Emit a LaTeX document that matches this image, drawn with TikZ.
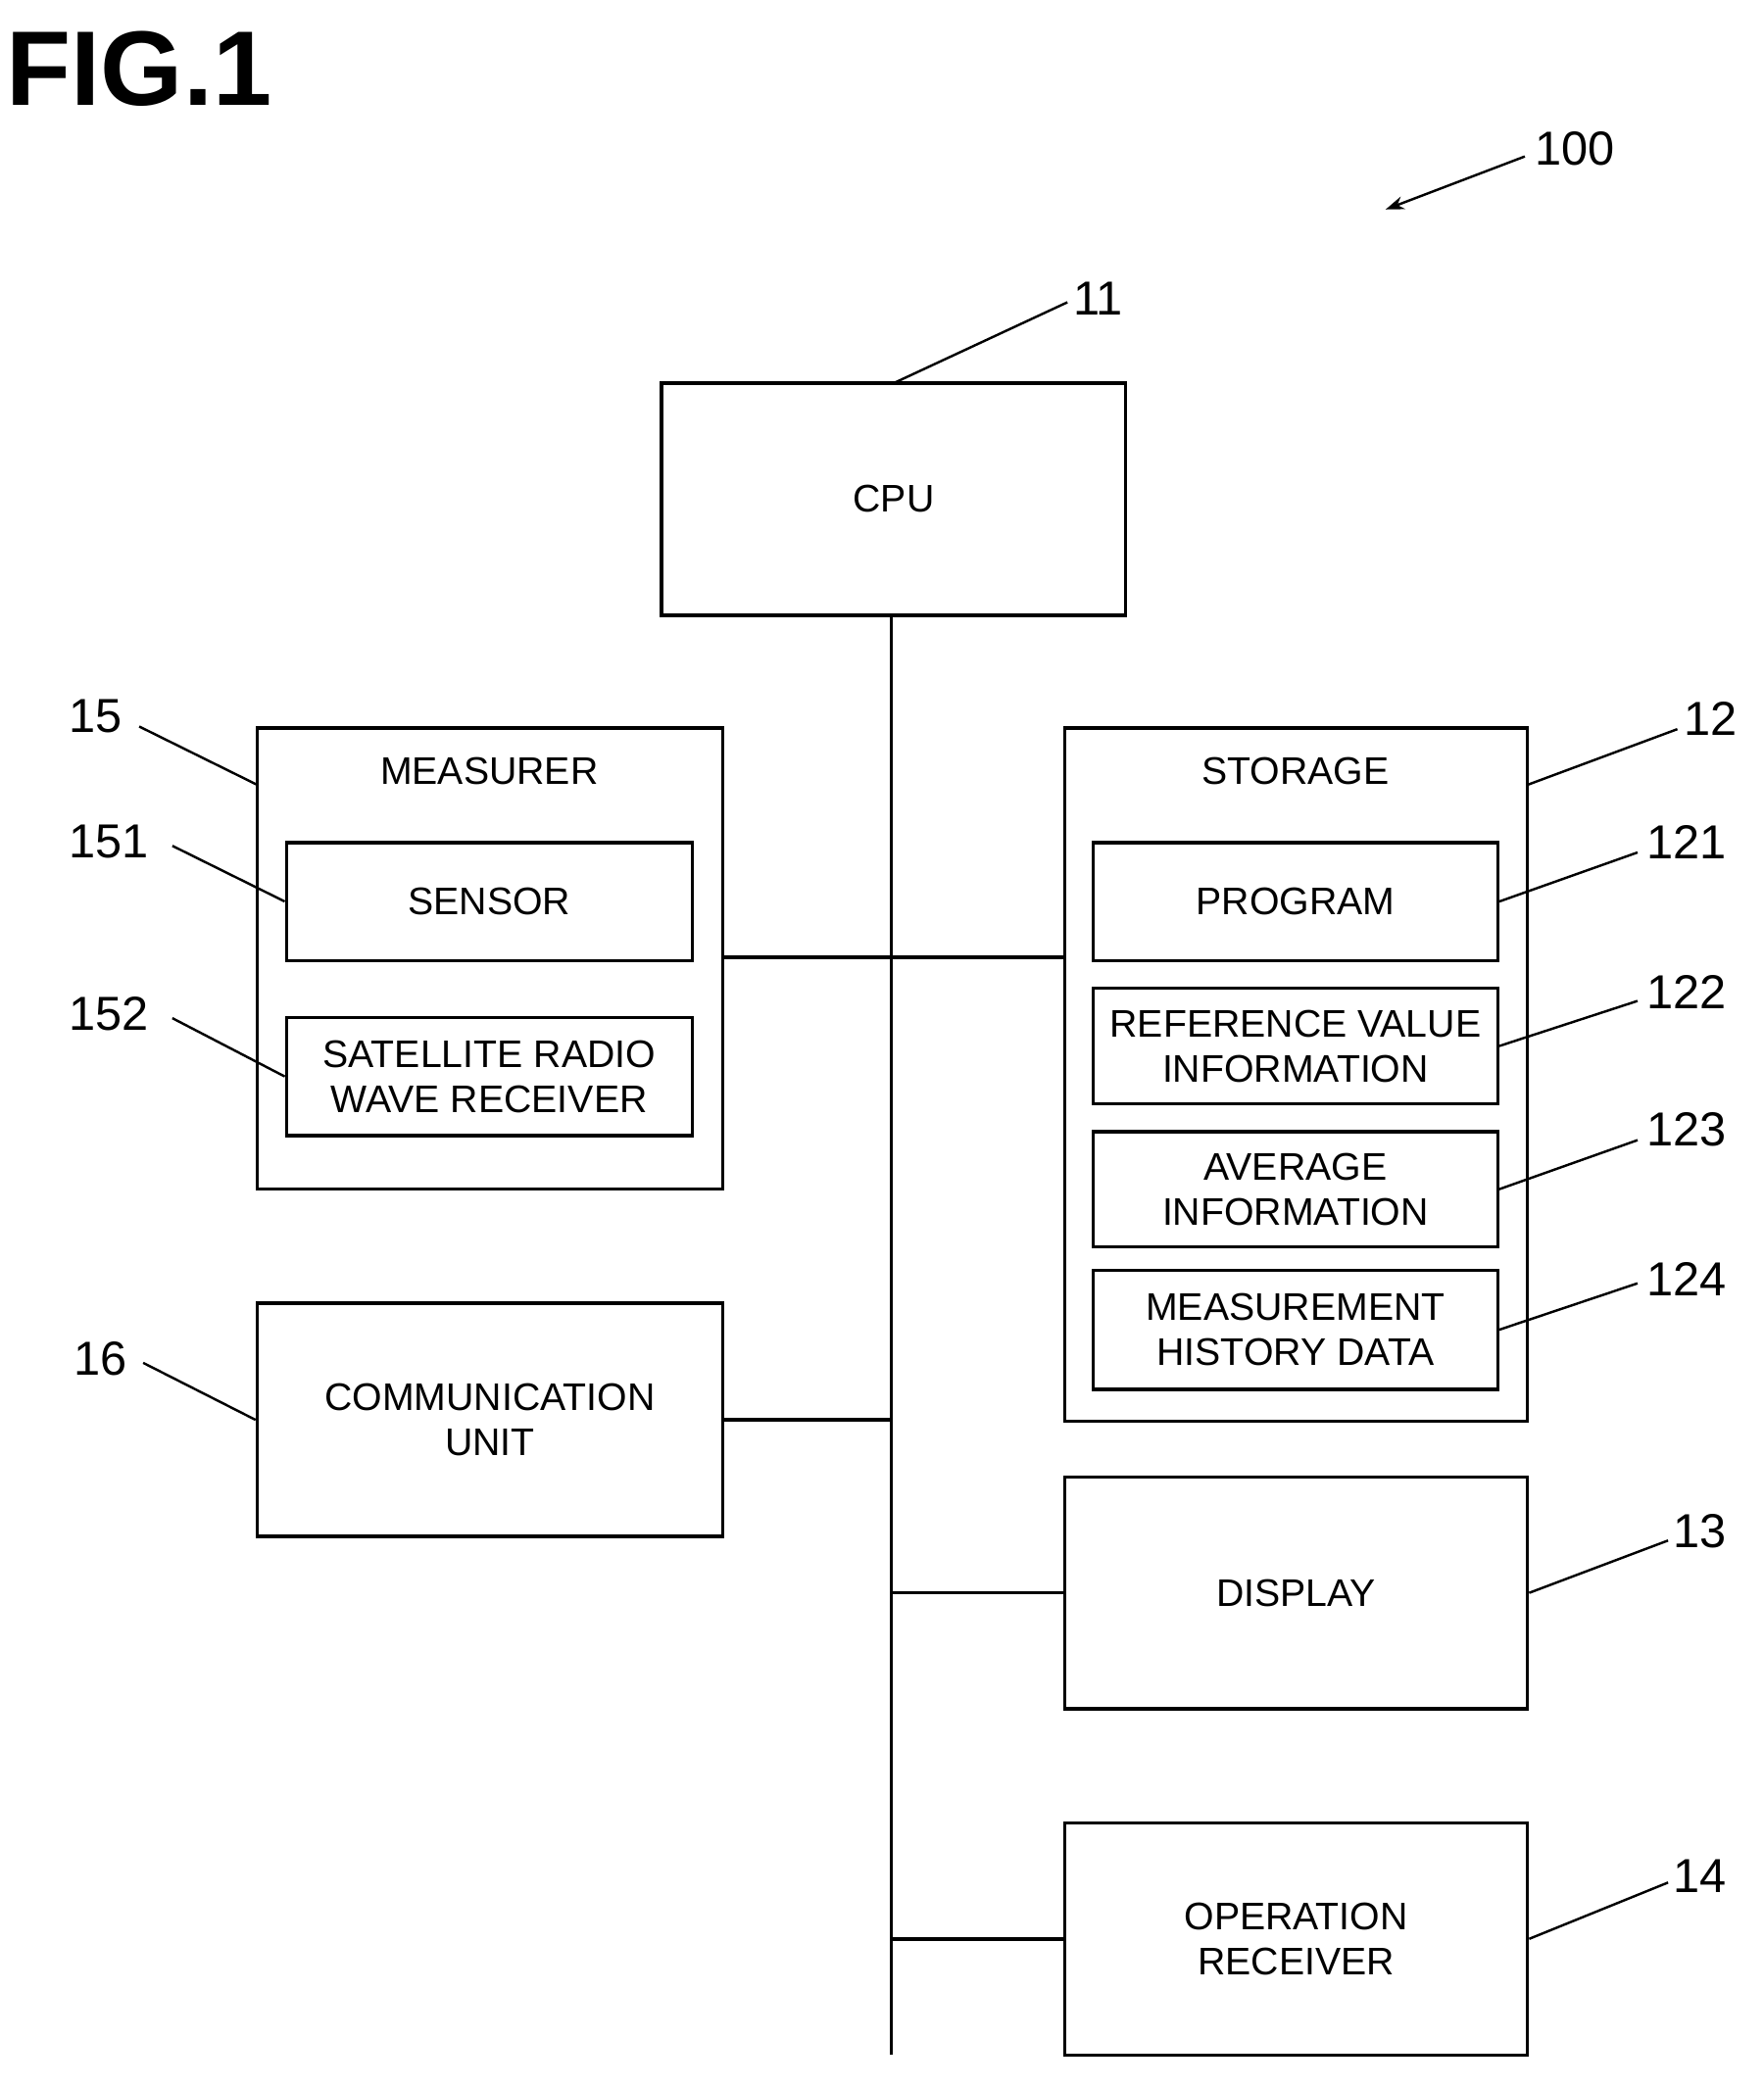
\documentclass[tikz,border=0pt]{standalone}
\usepackage{fontspec}
\setmainfont{Liberation Sans}
\usetikzlibrary{arrows.meta}
\begin{document}
\begin{tikzpicture}[x=1pt,y=-1pt,line width=2.5pt,
  box/.style={draw,thick,line width=2.5pt,align=center,font=\fontsize{29}{34}\selectfont},
  lbl/.style={font=\fontsize{36}{40}\selectfont},
  lead/.style={line width=1.8pt}]
\useasboundingbox (0,0) rectangle (1330,1575);
\node[font=\bfseries\fontsize{80}{80}\selectfont] (fig) at (105,52) {FIG.1};
% CPU
\draw (499,289) rectangle (849,464);
\node[box,draw=none] (cpu) at (674,376) {CPU};
\coordinate (cputop) at (674,289);
\node[lbl] (l11) at (828,225) {11};
\draw[lead] (cputop) -- (805,228);
% bus
\coordinate (bt) at (672,464); \coordinate (bb) at (672,1550);
\draw (bt) -- (bb);
% Measurer
\draw (194,549) rectangle (545,897);
\node[box,draw=none] (mt) at (369,582) {MEASURER};
\node[box,minimum width=306pt,minimum height=89pt] (sensor) at (369,680) {SENSOR};
\node[box,minimum width=306pt,minimum height=89pt,inner sep=0pt] (sat) at (369,812) {SATELLITE RADIO\\WAVE RECEIVER};
\node[lbl] (l15) at (72,540) {15};
\draw[lead] (105,548) -- (194,592);
\node[lbl] (l151) at (82,635) {151};
\draw[lead] (130,638) -- (sensor.west);
\node[lbl] (l152) at (82,765) {152};
\draw[lead] (130,768) -- (sat.west);
% Storage
\draw (803,549) rectangle (1152,1072);
\node[box,draw=none] (st) at (977,582) {STORAGE};
\node[box,minimum width=305pt,minimum height=89pt] (prog) at (977,680) {PROGRAM};
\node[box,minimum width=305pt,minimum height=87pt,inner sep=0pt] (ref) at (977,789) {REFERENCE VALUE\\INFORMATION};
\node[box,minimum width=305pt,minimum height=87pt,inner sep=0pt] (avg) at (977,897) {AVERAGE\\INFORMATION};
\node[box,minimum width=305pt,minimum height=90pt,inner sep=0pt] (mhd) at (977,1003) {MEASUREMENT\\HISTORY DATA};
\node[lbl] (l12) at (1290,542) {12};
\draw[lead] (1152,592) -- (1265,550);
\node[lbl] (l121) at (1272,635) {121};
\draw[lead] (prog.east) -- (1235,643);
\node[lbl] (l122) at (1272,748) {122};
\draw[lead] (ref.east) -- (1235,755);
\node[lbl] (l123) at (1272,852) {123};
\draw[lead] (avg.east) -- (1235,860);
\node[lbl] (l124) at (1272,965) {124};
\draw[lead] (mhd.east) -- (1235,968);
\draw (545,722) -- (803,722);
% Communication
\node[box,minimum width=351pt,minimum height=176pt,inner sep=0pt] (com) at (369.5,1071) {COMMUNICATION\\UNIT};
\node[lbl] (l16) at (76,1025) {16};
\draw[lead] (108,1028) -- (com.west);
\draw (com.east) -- (672,1071);
% Display
\node[box,minimum width=349pt,minimum height=175pt] (disp) at (977.5,1201.5) {DISPLAY};
\node[lbl] (l13) at (1282,1155) {13};
\draw[lead] (disp.east) -- (1258,1162);
\draw (672,1201.5) -- (disp.west);
% Operation
\node[box,minimum width=349pt,minimum height=175pt,inner sep=0pt] (op) at (977.5,1462.5) {OPERATION\\RECEIVER};
\node[lbl] (l14) at (1282,1415) {14};
\draw[lead] (op.east) -- (1258,1420);
\draw (672,1462.5) -- (op.west);
% 100
\node[lbl] (l100) at (1188,112) {100};
\coordinate (a100) at (1045,158);
\draw[lead,-{Stealth[length=14pt,width=10pt]}] (1150,118) -- (a100);
\end{tikzpicture}
\end{document}
